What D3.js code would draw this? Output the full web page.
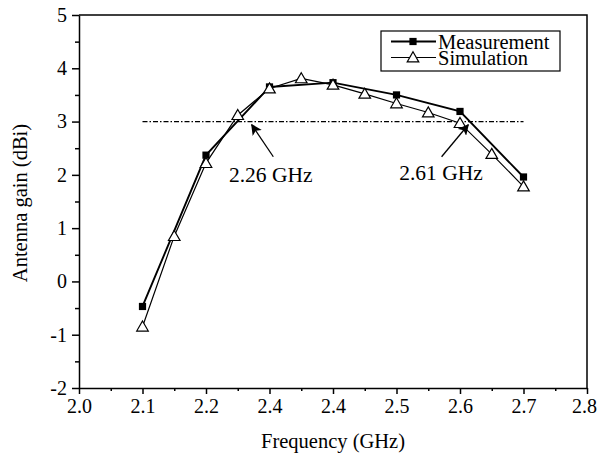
<!DOCTYPE html>
<html>
<head>
<meta charset="utf-8">
<script src="https://cdn.jsdelivr.net/npm/d3@7/dist/d3.min.js"></script>
<style>
  html, body { margin: 0; padding: 0; background: #fff; }
  svg { display: block; font-family: "Liberation Serif", "Times New Roman", serif; }
</style>
</head>
<body>
<svg id="chart" width="597" height="454"></svg>
<script>
// ---- data ----
const measFreq = [2.1, 2.2, 2.3, 2.4, 2.5, 2.6, 2.7];
const measGain = [-0.47, 2.37, 3.65, 3.73, 3.50, 3.19, 1.96];
const simFreq = [2.1, 2.15, 2.2, 2.25, 2.3, 2.35, 2.4, 2.45, 2.5, 2.55, 2.6, 2.65, 2.7];
const simGain = [-0.85, 0.85, 2.22, 3.12, 3.62, 3.81, 3.69, 3.52, 3.34, 3.17, 2.97, 2.39, 1.78];
const xTickValues = [2.0, 2.1, 2.2, 2.3, 2.4, 2.5, 2.6, 2.7, 2.8];
const xTickLabels = ["2.0", "2.1", "2.2", "2.4", "2.4", "2.5", "2.6", "2.7", "2.8"];
const yTickValues = [-2, -1, 0, 1, 2, 3, 4, 5];
const yTickLabels = ["-2", "-1", "0", "1", "2", "3", "4", "5"];
const refLevel = 3;
const refRange = [2.1, 2.7];
const annotations = [
  { label: "2.26 GHz", tip: [2.272, 2.94], tail: [2.306, 2.34], text: [2.302, 1.87] },
  { label: "2.61 GHz", tip: [2.613, 2.94], tail: [2.571, 2.34], text: [2.570, 1.90] }
];
const seriesNames = ["Measurement", "Simulation"];

// ---- layout ----
const svg = d3.select("#chart");
const L = 79, R = 587, T = 15, B = 388;
const x = d3.scaleLinear().domain([2.0, 2.8]).range([L, R]);
const y = d3.scaleLinear().domain([-2, 5]).range([B, T]);

// frame (top, right)
svg.append("path")
  .attr("d", `M${L},${T}H${R}V${B}`)
  .attr("fill", "none").attr("stroke", "#000").attr("stroke-width", 1.5);

// x axis
const xAxis = d3.axisBottom(x).tickValues(xTickValues)
  .tickFormat((d, i) => xTickLabels[i]).tickSize(6).tickSizeOuter(0).tickPadding(5);
const gx = svg.append("g").attr("transform", `translate(0,${B})`).call(xAxis);
const xMinor = d3.axisBottom(x).tickValues(d3.range(2.05, 2.8, 0.1)).tickFormat("").tickSize(3).tickSizeOuter(0);
const gxm = svg.append("g").attr("transform", `translate(0,${B})`).call(xMinor);
gxm.select(".domain").remove();

// y axis
const yAxis = d3.axisLeft(y).tickValues(yTickValues)
  .tickFormat((d, i) => yTickLabels[i]).tickSize(7).tickSizeOuter(0).tickPadding(5);
const gy = svg.append("g").attr("transform", `translate(${L},0)`).call(yAxis);
const yMinor = d3.axisLeft(y).tickValues(d3.range(-1.5, 5, 1)).tickFormat("").tickSize(4).tickSizeOuter(0);
const gym = svg.append("g").attr("transform", `translate(${L},0)`).call(yMinor);
gym.select(".domain").remove();

[gx, gy, gxm, gym].forEach(g => {
  g.selectAll("path, line").attr("stroke", "#000").attr("stroke-width", 1.5);
  g.selectAll("text").attr("fill", "#000").attr("font-size", 20)
    .attr("font-family", "Liberation Serif, Times New Roman, serif");
});
// last x label sits flush against the right edge, as in the reference
gx.selectAll(".tick").filter((d, i, n) => i === n.length - 1).select("text")
  .attr("text-anchor", "end").attr("dx", 9.5);

// axis titles
svg.append("text").attr("x", (L + R) / 2).attr("y", 448).attr("text-anchor", "middle")
  .attr("font-size", 20.5).text("Frequency (GHz)");
svg.append("text").attr("transform", `translate(27,203) rotate(-90)`)
  .attr("text-anchor", "middle").attr("font-size", 20.5).text("Antenna gain (dBi)");

// reference dash-dot line
svg.append("line")
  .attr("x1", x(refRange[0])).attr("x2", x(refRange[1]))
  .attr("y1", y(refLevel)).attr("y2", y(refLevel))
  .attr("stroke", "#000").attr("stroke-width", 1.2).attr("stroke-dasharray", "5,2,1.5,2");

// lines
const line = d3.line().x(d => x(d[0])).y(d => y(d[1]));
const measData = measFreq.map((f, i) => [f, measGain[i]]);
const simData = simFreq.map((f, i) => [f, simGain[i]]);
svg.append("path").datum(simData).attr("d", line).attr("fill", "none")
  .attr("stroke", "#000").attr("stroke-width", 1.2);
svg.append("path").datum(measData).attr("d", line).attr("fill", "none")
  .attr("stroke", "#000").attr("stroke-width", 1.9);

// markers
const sq = d3.symbol().type(d3.symbolSquare).size(52);
const tri = d3.symbol().type(d3.symbolTriangle).size(58);
svg.append("g").selectAll("path").data(measData).join("path")
  .attr("transform", d => `translate(${x(d[0])},${y(d[1])})`)
  .attr("d", sq).attr("fill", "#000");
svg.append("g").selectAll("path").data(simData).join("path")
  .attr("transform", d => `translate(${x(d[0])},${y(d[1]) + 1})`)
  .attr("d", tri).attr("fill", "#fff").attr("stroke", "#000").attr("stroke-width", 1.2);

// annotations with arrows
const defs = svg.append("defs");
defs.append("marker").attr("id", "arrow").attr("viewBox", "0 0 10 10")
  .attr("refX", 9).attr("refY", 5).attr("markerWidth", 11).attr("markerHeight", 11)
  .attr("markerUnits", "userSpaceOnUse").attr("orient", "auto")
  .append("path").attr("d", "M0,0L10,5L0,10L2.5,5Z").attr("fill", "#000");
annotations.forEach(a => {
  svg.append("line")
    .attr("x1", x(a.tail[0])).attr("y1", y(a.tail[1]))
    .attr("x2", x(a.tip[0])).attr("y2", y(a.tip[1]))
    .attr("stroke", "#000").attr("stroke-width", 1.3).attr("marker-end", "url(#arrow)");
  svg.append("text").attr("x", x(a.text[0])).attr("y", y(a.text[1]))
    .attr("text-anchor", "middle").attr("font-size", 21.5).text(a.label);
});

// legend
const lg = svg.append("g");
lg.append("rect").attr("x", 381).attr("y", 31).attr("width", 179).attr("height", 40)
  .attr("fill", "#fff").attr("stroke", "#000").attr("stroke-width", 1.2);
const rows = [41.5, 57.5];
seriesNames.forEach((name, i) => {
  const cy = rows[i];
  lg.append("line").attr("x1", 391).attr("x2", 436).attr("y1", cy).attr("y2", cy)
    .attr("stroke", "#000").attr("stroke-width", i === 0 ? 1.9 : 1.2);
  if (i === 0) {
    lg.append("path").attr("transform", `translate(413,${cy})`).attr("d", sq).attr("fill", "#000");
  } else {
    lg.append("path").attr("transform", `translate(413,${cy + 1})`).attr("d", tri)
      .attr("fill", "#fff").attr("stroke", "#000").attr("stroke-width", 1.2);
  }
  lg.append("text").attr("x", 438).attr("y", cy + 7).attr("font-size", 20.5).text(name);
});
</script>
</body>
</html>
